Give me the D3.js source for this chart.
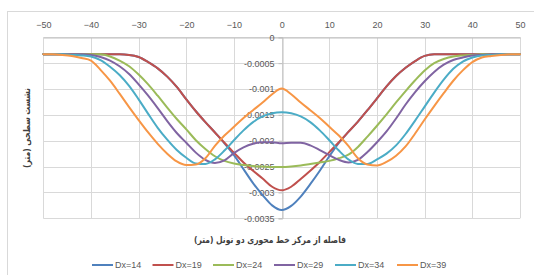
<!DOCTYPE html>
<html>
<head>
<meta charset="utf-8">
<script src="https://cdn.jsdelivr.net/npm/d3@7"></script>
<style>
  html, body { margin: 0; padding: 0; background: #ffffff; }
  svg { display: block; }
</style>
</head>
<body>
<svg id="chart" width="534" height="275"></svg>
<script>
// ---------------- data ----------------
const xValues = [-50,-48,-46,-44,-42,-40,-38,-36,-34,-32,-30,-28,-26,-24,-22,-20,-18,-16,-14,-12,-10,-8,-6,-4,-2,0,
  2,4,6,8,10,12,14,16,18,20,22,24,26,28,30,32,34,36,38,40,42,44,46,48,50];

const dx14 = [-0.00033,-0.00033,-0.00033,-0.00033,-0.00033,-0.00033,-0.00033,-0.00033,-0.00033,
  -0.00034,-0.00038,-0.00048,-0.00060,-0.00076,-0.00096,-0.00120,-0.00143,-0.00164,-0.00184,-0.00205,-0.00228,-0.00255,-0.00282,-0.00305,-0.00325,-0.00334,
  -0.00326,-0.00308,-0.00284,-0.00258,-0.00230,-0.00204,-0.00183,-0.00163,-0.00141,-0.00118,-0.00095,-0.00075,-0.00059,-0.00046,-0.00036,-0.00033,
  -0.00033,-0.00033,-0.00033,-0.00033,-0.00033,-0.00033,-0.00033,-0.00033,-0.00033];

const dx19 = [-0.00033,-0.00033,-0.00033,-0.00033,-0.00033,-0.00033,-0.00033,-0.00033,-0.00033,
  -0.00034,-0.00038,-0.00048,-0.00060,-0.00076,-0.00096,-0.00120,-0.00143,-0.00164,-0.00184,
  -0.00204,-0.00223,-0.00242,-0.00258,-0.00273,-0.00289,-0.00296,-0.00289,-0.00274,-0.00258,-0.00241,-0.00222,-0.00203,
  -0.00183,-0.00163,-0.00141,-0.00118,-0.00095,-0.00075,-0.00059,-0.00046,-0.00036,-0.00033,
  -0.00033,-0.00033,-0.00033,-0.00033,-0.00033,-0.00033,-0.00033,-0.00033,-0.00033];

const dx24 = [-0.00033,-0.00033,-0.00033,-0.00033,-0.00033,-0.00033,-0.00033,
  -0.00037,-0.00045,-0.00056,-0.00072,-0.00091,-0.00113,-0.00136,-0.00158,-0.00178,-0.00199,-0.00216,-0.00230,-0.00239,-0.00244,-0.00247,-0.00249,-0.00250,-0.00251,-0.00251,
  -0.00250,-0.00248,-0.00245,-0.00242,-0.00239,-0.00234,-0.00227,-0.00212,-0.00192,-0.00171,-0.00149,-0.00126,-0.00104,-0.00083,-0.00064,-0.00050,-0.00042,-0.00037,-0.00035,-0.00034,
  -0.00033,-0.00033,-0.00033,-0.00033,-0.00033];

const dx29 = [-0.00033,-0.00033,-0.00033,-0.00033,-0.00033,
  -0.00034,-0.00038,-0.00045,-0.00056,-0.00071,-0.00091,-0.00113,-0.00137,-0.00162,-0.00185,-0.00204,-0.00223,-0.00237,-0.00243,-0.00238,-0.00224,-0.00213,-0.00206,-0.00203,-0.00203,-0.00205,
  -0.00204,-0.00204,-0.00209,-0.00218,-0.00228,-0.00237,-0.00242,-0.00237,-0.00222,-0.00203,-0.00182,-0.00157,-0.00130,-0.00106,-0.00085,-0.00067,-0.00053,-0.00044,-0.00039,-0.00035,-0.00034,
  -0.00033,-0.00033,-0.00033,-0.00033];

const dx34 = [-0.00033,-0.00033,-0.00033,
  -0.00034,-0.00035,-0.00037,-0.00044,-0.00057,-0.00073,-0.00094,-0.00120,-0.00148,-0.00175,-0.00198,-0.00218,-0.00233,-0.00244,-0.00245,-0.00236,-0.00219,-0.00199,-0.00180,-0.00164,-0.00153,-0.00147,-0.00145,
  -0.00147,-0.00153,-0.00164,-0.00180,-0.00199,-0.00219,-0.00236,-0.00245,-0.00245,-0.00236,-0.00225,-0.00209,-0.00187,-0.00161,-0.00134,-0.00107,-0.00082,-0.00061,-0.00047,-0.00039,-0.00035,-0.00034,
  -0.00033,-0.00033,-0.00033];

const dx39 = [-0.00033,-0.00033,
  -0.00034,-0.00036,-0.00040,-0.00045,-0.00063,-0.00084,-0.00109,-0.00135,-0.00160,-0.00184,-0.00206,-0.00225,-0.00240,-0.00247,-0.00246,-0.00234,-0.00210,-0.00190,-0.00173,-0.00156,-0.00141,-0.00126,-0.00110,-0.00099,
  -0.00110,-0.00126,-0.00141,-0.00156,-0.00173,-0.00190,-0.00210,-0.00234,-0.00246,-0.00248,-0.00241,-0.00229,-0.00211,-0.00186,-0.00159,-0.00133,-0.00108,-0.00084,-0.00064,-0.00048,-0.00039,-0.00036,-0.00034,-0.00033,-0.00033];

const seriesNames = ["Dx=14", "Dx=19", "Dx=24", "Dx=29", "Dx=34", "Dx=39"];
const seriesValues = [dx14, dx19, dx24, dx29, dx34, dx39];
const seriesColors = ["#4F81BD", "#C0504D", "#9BBB59", "#8064A2", "#4BACC6", "#F79646"];

const xTicks = [-50,-40,-30,-20,-10,0,10,20,30,40,50];
const yTicks = [0,-0.0005,-0.001,-0.0015,-0.002,-0.0025,-0.003,-0.0035];
const yTickLabels = ["0","-0.0005","-0.001","-0.0015","-0.002","-0.0025","-0.003","-0.0035"];

const xTitle = "فاصله از مرکز خط محوری دو تونل (متر)";
const yTitle = "نشست سطحی (متر)";

// ---------------- drawing ----------------
const svg = d3.select("#chart");
const plot = { left: 43.3, right: 520, top: 37.3, bottom: 218.3 };

const x = d3.scaleLinear().domain([-50, 50]).range([plot.left, plot.right]);
const y = d3.scaleLinear().domain([-0.0035, 0]).range([plot.bottom, plot.top]);

const labelFont = "'Liberation Sans', Arial, sans-serif";
const labelColor = "#595959";
const titleFont = "'DejaVu Sans Condensed', 'DejaVu Sans', sans-serif";

// chart border
svg.append("rect")
  .attr("x", 7.5).attr("y", 11.5)
  .attr("width", 530).attr("height", 270)
  .attr("fill", "#fff").attr("stroke", "#d9d9d9").attr("stroke-width", 1);

// gridlines
const grid = svg.append("g");
grid.selectAll("line.v").data(xTicks).enter().append("line")
  .attr("x1", d => Math.round(x(d)) + 0.5).attr("x2", d => Math.round(x(d)) + 0.5)
  .attr("y1", plot.top).attr("y2", plot.bottom)
  .attr("stroke", "#d9d9d9").attr("stroke-width", 1);
grid.selectAll("line.h").data(yTicks).enter().append("line")
  .attr("x1", plot.left).attr("x2", plot.right)
  .attr("y1", d => Math.round(y(d)) + 0.5).attr("y2", d => Math.round(y(d)) + 0.5)
  .attr("stroke", "#d9d9d9").attr("stroke-width", 1);

// top x axis (at y = 0)
const xAxis = d3.axisTop(x).tickValues(xTicks).tickSize(0).tickPadding(0).tickFormat(d3.format("d"));
const gx = svg.append("g").attr("transform", `translate(0,${Math.round(y(0)) + 0.5})`).call(xAxis);
gx.select(".domain").attr("stroke", "#bfbfbf");
gx.selectAll("text")
  .attr("y", 25 - (Math.round(y(0)) + 0.5))
  .attr("dy", "0.35em")
  .attr("font-family", labelFont).attr("font-size", 9).attr("fill", labelColor);

// y axis at x = 0
const yAxis = d3.axisLeft(y).tickValues(yTicks).tickSize(4).tickPadding(4)
  .tickFormat((d, i) => yTickLabels[i]);
const gy = svg.append("g").attr("transform", `translate(${Math.round(x(0)) + 0.5},0)`).call(yAxis);
gy.select(".domain").attr("stroke", "#bfbfbf");
gy.selectAll(".tick line").attr("stroke", "#bfbfbf");
gy.selectAll("text")
  .attr("font-family", labelFont).attr("font-size", 9).attr("fill", labelColor);

// series lines
const line = d3.line()
  .x((d, i) => x(xValues[i]))
  .y(d => y(d))
  .curve(d3.curveMonotoneX);

svg.append("g").selectAll("path").data(seriesValues).enter().append("path")
  .attr("d", d => line(d))
  .attr("fill", "none")
  .attr("stroke", (d, i) => seriesColors[i])
  .attr("stroke-width", 2)
  .attr("stroke-linejoin", "round")
  .attr("stroke-linecap", "round");

// axis titles
svg.append("text")
  .attr("x", 270).attr("y", 240)
  .attr("text-anchor", "middle").attr("dy", "0.35em")
  .attr("direction", "rtl")
  .attr("font-family", titleFont)
  .attr("font-size", 9.5).attr("font-weight", "bold")
  .attr("fill", "#404040")
  .attr("textLength", 152).attr("lengthAdjust", "spacingAndGlyphs")
  .text(xTitle);

svg.append("text")
  .attr("transform", "translate(27,128) rotate(-90)")
  .attr("text-anchor", "middle").attr("dy", "0.35em")
  .attr("direction", "rtl")
  .attr("font-family", titleFont)
  .attr("font-size", 9.5).attr("font-weight", "bold")
  .attr("fill", "#404040")
  .attr("textLength", 80).attr("lengthAdjust", "spacingAndGlyphs")
  .text(yTitle);

// legend
const legendX = [92, 152.5, 213, 274, 335, 397];
const legendY = 265;
const lg = svg.append("g");
seriesNames.forEach((name, i) => {
  lg.append("line")
    .attr("x1", legendX[i]).attr("x2", legendX[i] + 21)
    .attr("y1", legendY).attr("y2", legendY)
    .attr("stroke", seriesColors[i]).attr("stroke-width", 2);
  lg.append("text")
    .attr("x", legendX[i] + 23).attr("y", legendY).attr("dy", "0.35em")
    .attr("font-family", labelFont).attr("font-size", 9).attr("fill", labelColor)
    .text(name);
});
</script>
</body>
</html>
